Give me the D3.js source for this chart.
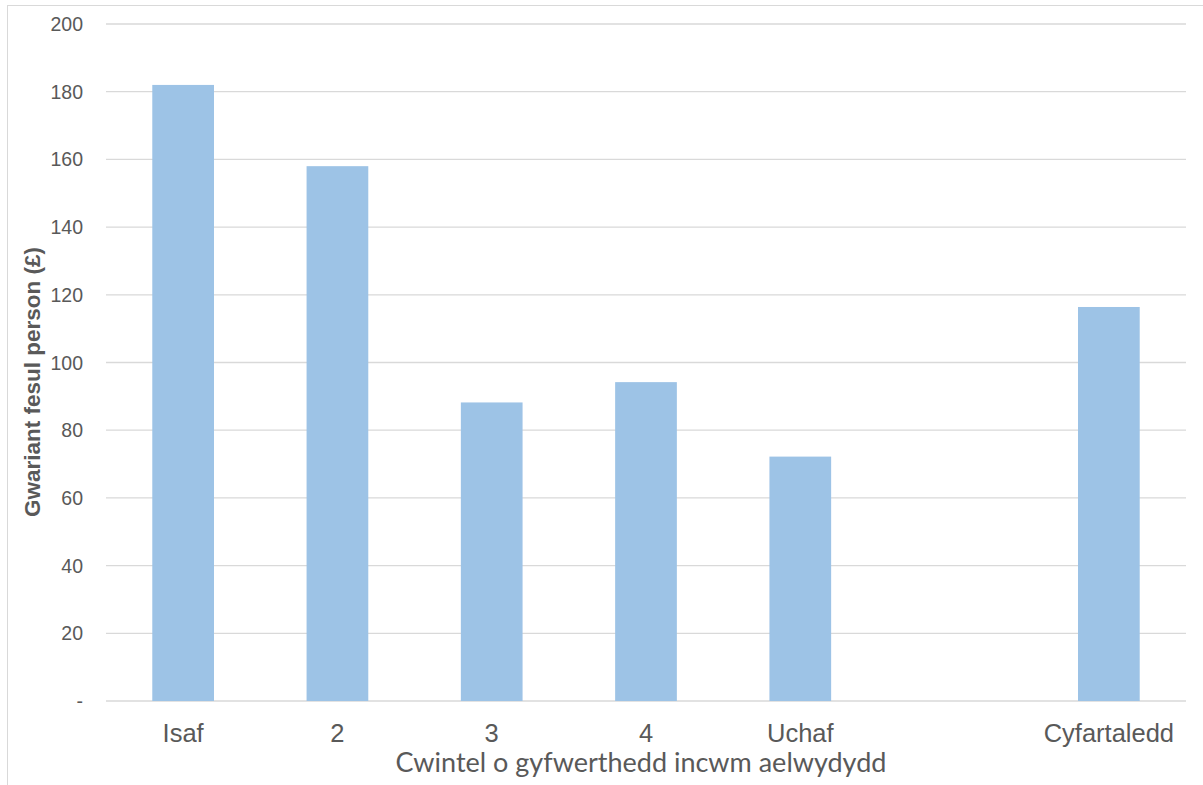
<!DOCTYPE html>
<html><head><meta charset="utf-8">
<script src="https://cdn.jsdelivr.net/npm/d3@7"></script>
<style>body{margin:0;background:#fff;}svg{display:block;}</style>
</head><body><svg id="c" width="1203" height="785"></svg>
<script>
const categories = ["Isaf","2","3","4","Uchaf","","Cyfartaledd"];
const values = [182, 158, 88.2, 94.2, 72.2, null, 116.4];
const yTicks = [0,20,40,60,80,100,120,140,160,180,200];
const yTitle = "Gwariant fesul person (£)";
const xTitle = "Cwintel o gyfwerthedd incwm aelwydydd";

const svg = d3.select("#c");
const m = {left:106, right:1186, top:24, bottom:701};
svg.append("rect").attr("x",7.5).attr("y",5.5).attr("width",1300).attr("height",1000)
  .attr("fill","none").attr("stroke","#d9d9d9");

const x = d3.scaleBand().domain(categories.map((d,i)=>i)).range([m.left,m.right]).paddingInner(0.6).paddingOuter(0.3);
const y = d3.scaleLinear().domain([0,200]).range([m.bottom,m.top]);

const g = svg.append("g");
g.selectAll("line.grid").data(yTicks).join("line")
  .attr("x1",m.left).attr("x2",m.right).attr("y1",d=>y(d)).attr("y2",d=>y(d))
  .attr("stroke","#d9d9d9").attr("stroke-width",1.3);

g.selectAll("rect.bar").data(values.map((v,i)=>({v,i})).filter(d=>d.v!=null)).join("rect")
  .attr("x",d=>x(d.i)).attr("width",x.bandwidth())
  .attr("y",d=>y(d.v)).attr("height",d=>y(0)-y(d.v)).attr("fill","#9dc3e6");

g.selectAll("text.yt").data(yTicks).join("text")
  .attr("x",83).attr("y",d=>y(d)).attr("dy","0.36em").attr("text-anchor","end")
  .attr("font-family","Liberation Sans, Arial, sans-serif").attr("font-size",19.5).attr("fill","#595959")
  .text(d=>d===0?"-":d);

g.selectAll("text.xt").data(categories).join("text")
  .attr("x",(d,i)=>x(i)+x.bandwidth()/2).attr("y",742).attr("text-anchor","middle")
  .attr("font-family","Liberation Sans, Arial, sans-serif").attr("font-size",25.5).attr("fill","#595959")
  .text(d=>d);

svg.append("text").attr("x",641).attr("y",772).attr("text-anchor","middle")
  .attr("font-family","Lato, Open Sans, sans-serif").attr("font-size",27).attr("fill","#595959")
  .text(xTitle);

svg.append("text").attr("transform","translate(40,382) rotate(-90)").attr("text-anchor","middle")
  .attr("font-family","Liberation Sans, Arial, sans-serif").attr("font-size",22.5).attr("font-weight","bold").attr("fill","#595959")
  .text(yTitle);
</script></body></html>
